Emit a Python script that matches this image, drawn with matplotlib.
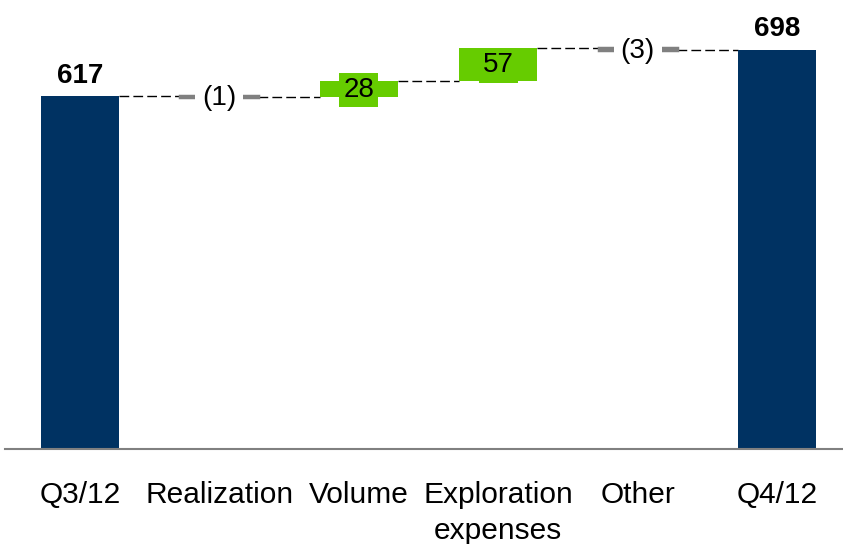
import matplotlib.pyplot as plt
import numpy as np

plt.rcParams['font.family'] = ['Liberation Sans', 'DejaVu Sans']

# waterfall data
categories = ['Q3/12', 'Realization', 'Volume', 'Exploration\nexpenses', 'Other', 'Q4/12']
start_value = 617
changes = [-1, 28, 57, -3]
end_value = 698

navy = '#003262'
green = '#66cc00'
grey = '#808080'

fig = plt.figure(figsize=(8.43, 5.44), dpi=100)
ax = fig.add_axes([5 / 843, 95 / 544, 838 / 843, 449 / 544])

x = np.arange(len(categories))
w = 0.56

# running totals for the floating bars
levels = [start_value]
for c in changes:
    levels.append(levels[-1] + c)

# totals
ax.bar(x[0], start_value, w, color=navy, zorder=2)
ax.bar(x[-1], end_value, w, color=navy, zorder=2)
ax.text(x[0], start_value + 13, str(start_value), ha='center', va='bottom',
        fontsize=20, fontweight='bold')
ax.text(x[-1], end_value + 13, str(end_value), ha='center', va='bottom',
        fontsize=20, fontweight='bold')

# changes
for i, c in enumerate(changes):
    xi = x[i + 1]
    lo = min(levels[i], levels[i + 1])
    if c > 0:
        ax.bar(xi, c, w, bottom=lo, color=green, zorder=2)
        ax.text(xi, lo + c / 2 - 2, str(c), ha='center', va='center', fontsize=20,
                zorder=4, bbox=dict(boxstyle='square,pad=0.15', fc=green, ec='none'))
    else:
        ax.bar(xi, -c, w, bottom=lo, color=grey, edgecolor=grey, linewidth=2.5, zorder=2)
        ax.text(xi, lo - c / 2 - 3, '(%d)' % -c, ha='center', va='center', fontsize=20,
                zorder=4, bbox=dict(boxstyle='square,pad=0.25', fc='white', ec='none'))

# dashed connectors between bars
for i in range(len(categories) - 1):
    ax.plot([x[i] + w / 2, x[i + 1] - w / 2], [levels[i], levels[i]],
            color='black', lw=1, ls=(0, (7, 3)), zorder=1)

ax.set_xlim(-0.5372, 5.472)
ax.set_ylim(0, 785)
ax.set_xticks(x)
ax.set_xticklabels(categories, fontsize=21.5, linespacing=1.38)
ax.tick_params(axis='x', length=0, pad=23)
ax.set_yticks([])
for s in ['top', 'right', 'left']:
    ax.spines[s].set_visible(False)
ax.spines['bottom'].set_color(grey)
ax.spines['bottom'].set_linewidth(1.5)

fig.savefig('out.png', dpi=100)
